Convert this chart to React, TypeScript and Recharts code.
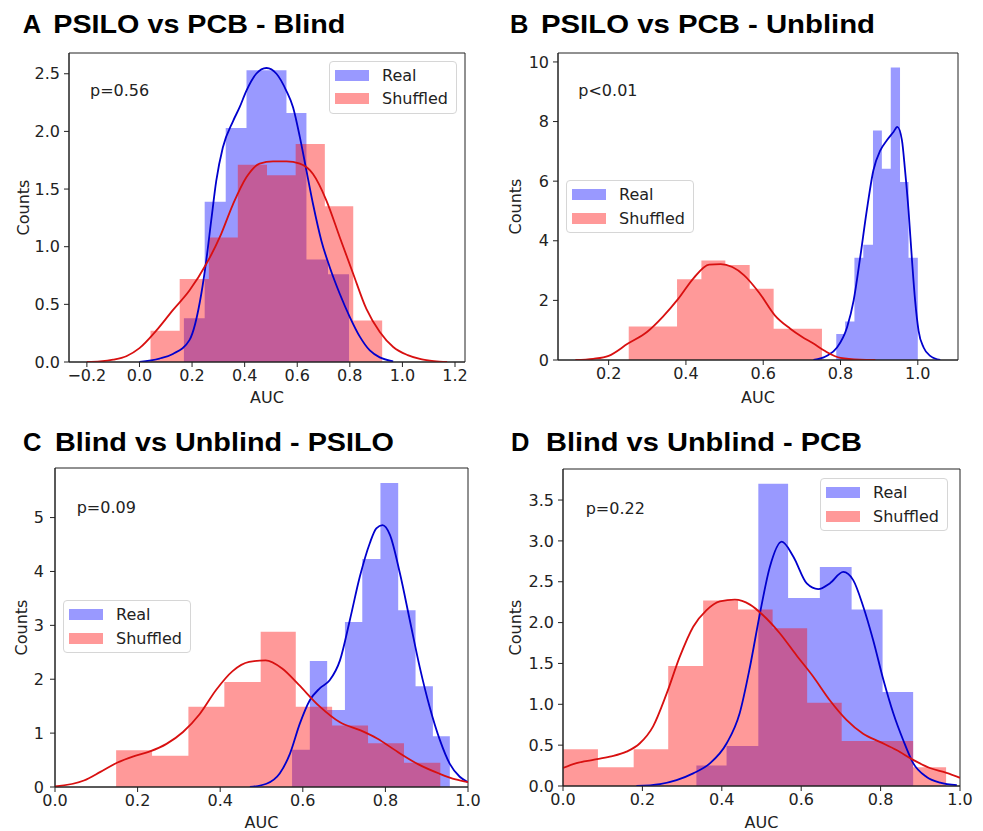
import { ComposedChart, Area, Line, XAxis, YAxis, Legend, ReferenceArea } from "recharts";

const FONT = "'DejaVu Sans', sans-serif";
const TITLE_FONT = "'Liberation Sans', Arial, sans-serif";
const INK = "#222";
const BLUE = "#0000ff";
const RED = "#ff0000";
const BLUE_LINE = "#0000cd";
const RED_LINE = "#d81010";

const legendNames = ["Real", "Shuffled"];
const legendColors = [BLUE, RED];

// ---- A: PSILO vs PCB - Blind
const realEdgesA = [0.169, 0.248, 0.328, 0.407, 0.485, 0.559, 0.635, 0.717, 0.797];
const realCountsA = [0.38, 1.39, 2.03, 2.53, 2.53, 2.16, 0.89, 0.76];
const shufEdgesA = [0.042, 0.153, 0.264, 0.374, 0.485, 0.594, 0.705, 0.813, 0.923];
const shufCountsA = [0.27, 0.72, 1.08, 1.71, 1.62, 1.89, 1.35, 0.36];
const realKdeXA = [0.0, 0.076, 0.127, 0.19, 0.235, 0.254, 0.273, 0.292, 0.317, 0.356, 0.381, 0.406, 0.444, 0.483, 0.521, 0.559, 0.584, 0.61, 0.635, 0.66, 0.692, 0.724, 0.762, 0.8, 0.838, 0.876, 0.914, 0.965];
const realKdeYA = [0, 0.03, 0.07, 0.19, 0.59, 0.88, 1.23, 1.57, 1.86, 2.09, 2.21, 2.35, 2.5, 2.55, 2.5, 2.35, 2.21, 1.95, 1.66, 1.37, 1.05, 0.82, 0.59, 0.39, 0.22, 0.1, 0.04, 0.006];
const shufKdeXA = [-0.2, -0.15, -0.1, -0.05, 0.0, 0.063, 0.127, 0.19, 0.254, 0.305, 0.356, 0.406, 0.457, 0.508, 0.559, 0.61, 0.66, 0.711, 0.762, 0.812, 0.863, 0.914, 0.965, 1.02, 1.07, 1.12, 1.17];
const shufKdeYA = [0, 0.005, 0.02, 0.05, 0.12, 0.27, 0.45, 0.62, 0.85, 1.08, 1.37, 1.6, 1.72, 1.74, 1.74, 1.72, 1.63, 1.4, 1.08, 0.77, 0.46, 0.26, 0.13, 0.06, 0.025, 0.008, 0];
const xTicksA = [-0.2, 0, 0.2, 0.4, 0.6, 0.8, 1.0, 1.2];
const yTicksA = [0, 0.5, 1.0, 1.5, 2.0, 2.5];

// ---- B: PSILO vs PCB - Unblind
const realEdgesB = [0.789, 0.812, 0.836, 0.859, 0.884, 0.907, 0.93, 0.954, 0.976, 1.0];
const realCountsB = [0.87, 1.29, 3.43, 3.87, 7.7, 6.42, 9.81, 5.97, 3.43];
const shufEdgesB = [0.252, 0.314, 0.377, 0.44, 0.502, 0.565, 0.627, 0.69, 0.752];
const shufCountsB = [1.12, 1.12, 2.71, 3.34, 3.19, 2.39, 1.05, 1.05];
const realKdeXB = [0.73, 0.765, 0.791, 0.817, 0.834, 0.851, 0.868, 0.885, 0.903, 0.92, 0.937, 0.947, 0.959, 0.967, 0.976, 0.985, 0.993, 1.002, 1.015, 1.032, 1.058];
const realKdeYB = [0, 0.14, 0.42, 1.1, 2.0, 3.45, 5.02, 6.36, 7.03, 7.37, 7.65, 7.82, 7.37, 6.36, 5.02, 3.34, 2.0, 0.98, 0.42, 0.14, 0];
const shufKdeXB = [0.114, 0.16, 0.2, 0.25, 0.3, 0.34, 0.38, 0.42, 0.46, 0.49, 0.52, 0.55, 0.59, 0.63, 0.67, 0.7, 0.73, 0.76, 0.8, 0.85, 0.89];
const shufKdeYB = [0, 0.04, 0.14, 0.55, 0.95, 1.45, 2.05, 2.75, 3.2, 3.22, 3.12, 2.85, 2.25, 1.5, 1.05, 0.78, 0.55, 0.3, 0.07, 0.01, 0];
const xTicksB = [0.2, 0.4, 0.6, 0.8, 1.0];
const yTicksB = [0, 2, 4, 6, 8, 10];

// ---- C: Blind vs Unblind - PSILO
const realEdgesC = [0.574, 0.617, 0.659, 0.702, 0.744, 0.788, 0.831, 0.873, 0.915, 0.956];
const realCountsC = [0.69, 2.34, 1.43, 3.06, 4.23, 5.64, 3.28, 1.87, 0.94];
const shufEdgesC = [0.148, 0.235, 0.323, 0.41, 0.498, 0.583, 0.671, 0.758, 0.845, 0.933];
const shufCountsC = [0.68, 0.58, 1.49, 1.95, 2.88, 1.49, 1.14, 0.81, 0.45];
const realKdeXC = [0.472, 0.512, 0.544, 0.569, 0.593, 0.617, 0.641, 0.665, 0.69, 0.714, 0.738, 0.762, 0.778, 0.793, 0.811, 0.835, 0.859, 0.883, 0.907, 0.932, 0.956, 0.98, 1.0];
const realKdeYC = [0, 0.06, 0.25, 0.62, 1.18, 1.61, 1.83, 1.98, 2.35, 3.1, 3.9, 4.52, 4.8, 4.86, 4.68, 3.97, 3.1, 2.23, 1.49, 0.87, 0.43, 0.19, 0.09];
const shufKdeXC = [0, 0.07, 0.11, 0.15, 0.19, 0.23, 0.27, 0.31, 0.35, 0.39, 0.43, 0.47, 0.51, 0.55, 0.59, 0.64, 0.69, 0.74, 0.78, 0.83, 0.88, 0.93, 0.97, 1.0];
const shufKdeYC = [0.01, 0.12, 0.28, 0.45, 0.57, 0.66, 0.8, 1.02, 1.35, 1.8, 2.15, 2.32, 2.35, 2.2, 1.9, 1.5, 1.2, 1.05, 0.9, 0.65, 0.42, 0.25, 0.14, 0.09];
const xTicksC = [0, 0.2, 0.4, 0.6, 0.8, 1.0];
const yTicksC = [0, 1, 2, 3, 4, 5];

// ---- D: Blind vs Unblind - PCB
const realEdgesD = [0.336, 0.412, 0.492, 0.567, 0.647, 0.727, 0.805, 0.882];
const realCountsD = [0.25, 0.49, 3.7, 2.3, 2.68, 2.16, 1.15];
const shufEdgesD = [0, 0.088, 0.178, 0.265, 0.353, 0.441, 0.528, 0.615, 0.702, 0.79, 0.882, 0.965];
const shufCountsD = [0.45, 0.23, 0.45, 1.47, 2.27, 2.16, 1.93, 1.02, 0.55, 0.55, 0.23];
const realKdeXD = [0.185, 0.244, 0.286, 0.328, 0.37, 0.412, 0.445, 0.471, 0.496, 0.521, 0.551, 0.58, 0.614, 0.643, 0.672, 0.706, 0.731, 0.756, 0.781, 0.807, 0.832, 0.857, 0.882, 0.916, 0.95, 0.992];
const realKdeYD = [0, 0.024, 0.073, 0.155, 0.277, 0.52, 0.89, 1.46, 2.11, 2.68, 2.99, 2.81, 2.48, 2.41, 2.48, 2.62, 2.52, 2.2, 1.79, 1.3, 0.89, 0.56, 0.28, 0.11, 0.04, 0.01];
const shufKdeXD = [0, 0.034, 0.076, 0.118, 0.16, 0.193, 0.227, 0.261, 0.294, 0.328, 0.361, 0.395, 0.433, 0.471, 0.504, 0.546, 0.588, 0.63, 0.672, 0.714, 0.756, 0.798, 0.84, 0.882, 0.924, 0.966, 1.0];
const shufKdeYD = [0.22, 0.28, 0.32, 0.36, 0.42, 0.52, 0.73, 1.13, 1.58, 1.95, 2.15, 2.26, 2.28, 2.22, 2.09, 1.87, 1.6, 1.34, 1.05, 0.81, 0.64, 0.54, 0.44, 0.32, 0.22, 0.16, 0.1];
const xTicksD = [0, 0.2, 0.4, 0.6, 0.8, 1.0];
const yTicksD = [0, 0.5, 1.0, 1.5, 2.0, 2.5, 3.0, 3.5];

// histogram edges + heights -> points for a stepAfter area
const toSteps = (edges: number[], counts: number[]) =>
  edges.map((x, i) => ({ x, y: counts[Math.min(i, counts.length - 1)] }));
const toPoints = (xs: number[], ys: number[]) => xs.map((x, i) => ({ x, y: ys[i] }));

const fmt1 = (v: number) => (v < 0 ? "\u2212" : "") + Math.abs(v).toFixed(1);
const fmt0 = (v: number) => String(v);

const panels = [
  {
    key: "A", left: 0, top: 40, width: 475, height: 370, mt: 13, mr: 10, yw: 69, xh: 48,
    xDomain: [-0.268, 1.238], yMax: 2.68, xTicks: xTicksA, yTicks: yTicksA, yFmt: fmt1,
    auc: 7, counts: 23.5, legLeft: 329, legTop: 20.7, ym: 4,
    real: toSteps(realEdgesA, realCountsA), shuf: toSteps(shufEdgesA, shufCountsA),
    realKde: toPoints(realKdeXA, realKdeYA), shufKde: toPoints(shufKdeXA, shufKdeYA),
  },
  {
    key: "B", left: 490, top: 40, width: 490, height: 370, mt: 13, mr: 22, yw: 68, xh: 50,
    xDomain: [0.069, 1.104], yMax: 10.3, xTicks: xTicksB, yTicks: yTicksB, yFmt: fmt0,
    auc: 7, counts: 25, legLeft: 76, legTop: 140, ym: 4,
    real: toSteps(realEdgesB, realCountsB), shuf: toSteps(shufEdgesB, shufCountsB),
    realKde: toPoints(realKdeXB, realKdeYB), shufKde: toPoints(shufKdeXB, shufKdeYB),
  },
  {
    key: "C", left: 0, top: 455, width: 490, height: 376, mt: 13, mr: 22, yw: 55, xh: 44,
    xDomain: [0, 1], yMax: 5.92, xTicks: xTicksC, yTicks: yTicksC, yFmt: fmt0,
    auc: 3, counts: 21.7, legLeft: 63, legTop: 145, ym: 6,
    real: toSteps(realEdgesC, realCountsC), shuf: toSteps(shufEdgesC, shufCountsC),
    realKde: toPoints(realKdeXC, realKdeYC), shufKde: toPoints(shufKdeXC, shufKdeYC),
  },
  {
    key: "D", left: 490, top: 455, width: 493, height: 376, mt: 14, mr: 23, yw: 73, xh: 45,
    xDomain: [0, 1], yMax: 3.88, xTicks: xTicksD, yTicks: yTicksD, yFmt: fmt1,
    auc: 3, counts: 25, legLeft: 330, legTop: 23, ym: 4,
    real: toSteps(realEdgesD, realCountsD), shuf: toSteps(shufEdgesD, shufCountsD),
    realKde: toPoints(realKdeXD, realKdeYD), shufKde: toPoints(shufKdeXD, shufKdeYD),
  },
];

const titles = [
  { letter: "A", text: "PSILO vs PCB - Blind", lx: 22.7, tx: 53.3, w: 292, y: 33.3 },
  { letter: "B", text: "PSILO vs PCB - Unblind", lx: 510, tx: 541, w: 334, y: 33.3 },
  { letter: "C", text: "Blind vs Unblind - PSILO", lx: 23, tx: 55, w: 339, y: 451 },
  { letter: "D", text: "Blind vs Unblind - PCB", lx: 511, tx: 546, w: 316, y: 451 },
];

const pValues = [
  { text: "p=0.56", x: 90, y: 95.5 },
  { text: "p<0.01", x: 578.3, y: 95.5 },
  { text: "p=0.09", x: 76.7, y: 513.3 },
  { text: "p=0.22", x: 585.7, y: 514.3 },
];

function LegendBox() {
  return (
    <div
      style={{
        width: 128, height: 53, boxSizing: "border-box", border: "1px solid #d6d6d6",
        borderRadius: 4, background: "rgba(255,255,255,0.8)", fontFamily: FONT,
        fontSize: 16, color: INK, padding: "2px 0 0 5px",
      }}
    >
      {legendNames.map((n, i) => (
        <div key={n} style={{ display: "flex", alignItems: "center", height: 23.5 }}>
          <span style={{ display: "inline-block", width: 34, height: 11, background: legendColors[i], opacity: 0.4, marginRight: 13 }} />
          {n}
        </div>
      ))}
    </div>
  );
}

const tickStyle = { fill: INK, fontSize: 16, fontFamily: FONT };

function Panel({ p }: { p: (typeof panels)[number] }) {
  return (
    <div style={{ position: "absolute", left: p.left, top: p.top }}>
      <ComposedChart width={p.width} height={p.height} margin={{ top: p.mt, right: p.mr, bottom: 0, left: 0 }}>
        <XAxis
          dataKey="x" type="number" domain={p.xDomain} ticks={p.xTicks} tickFormatter={fmt1}
          allowDataOverflow height={p.xh} tickSize={5} tickMargin={3} stroke={INK} tick={tickStyle}
          label={{ value: "AUC", position: "insideBottom", offset: p.auc, fill: INK, fontSize: 16, fontFamily: FONT }}
        />
        <YAxis
          type="number" domain={[0, p.yMax]} ticks={p.yTicks} tickFormatter={p.yFmt} allowDataOverflow
          width={p.yw} tickSize={5} tickMargin={p.ym} stroke={INK} tick={tickStyle}
          label={{ value: "Counts", angle: -90, position: "insideLeft", offset: p.counts, fill: INK, fontSize: 16, fontFamily: FONT, style: { textAnchor: "middle" } }}
        />
        <Area data={p.real} dataKey="y" type="stepAfter" stroke="none" fill={BLUE} fillOpacity={0.4} dot={false} activeDot={false} isAnimationActive={false} />
        <Area data={p.shuf} dataKey="y" type="stepAfter" stroke="none" fill={RED} fillOpacity={0.4} dot={false} activeDot={false} isAnimationActive={false} />
        <Line data={p.realKde} dataKey="y" type="monotone" stroke={BLUE_LINE} strokeWidth={1.8} dot={false} activeDot={false} isAnimationActive={false} />
        <Line data={p.shufKde} dataKey="y" type="monotone" stroke={RED_LINE} strokeWidth={1.8} dot={false} activeDot={false} isAnimationActive={false} />
        {/* the axes frame (top and right spines) */}
        <ReferenceArea
          x1={p.xDomain[0]} x2={p.xDomain[1]} y1={0} y2={p.yMax}
          fill="none" fillOpacity={0} stroke={INK} strokeWidth={1} ifOverflow="visible"
        />
        <Legend
          verticalAlign="middle" align="center" layout="vertical"
          wrapperStyle={{ left: p.legLeft, top: p.legTop, width: 128, height: 53 }}
          content={() => <LegendBox />}
        />
      </ComposedChart>
    </div>
  );
}

export default function App() {
  return (
    <div style={{ position: "absolute", left: 0, top: 0, width: 983, height: 831, background: "#fff", overflow: "hidden" }}>
      {panels.map((p) => (
        <Panel key={p.key} p={p} />
      ))}
      <svg width={983} height={831} style={{ position: "absolute", left: 0, top: 0, pointerEvents: "none" }}>
        {titles.map((t) => (
          <g key={t.letter} fontFamily={TITLE_FONT} fontWeight="bold" fontSize={25.5} fill="#000">
            <text x={t.lx} y={t.y}>{t.letter}</text>
            <text x={t.tx} y={t.y} textLength={t.w} lengthAdjust="spacingAndGlyphs">{t.text}</text>
          </g>
        ))}
        {pValues.map((v) => (
          <text key={v.text} x={v.x} y={v.y} fontFamily={FONT} fontSize={16} fill={INK}>{v.text}</text>
        ))}
      </svg>
    </div>
  );
}
